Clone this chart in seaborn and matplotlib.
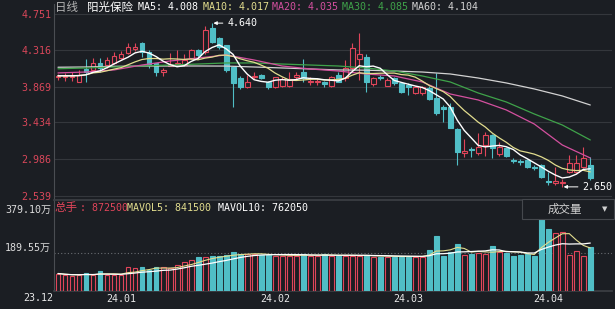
import numpy as np
import pandas as pd
import matplotlib
matplotlib.use("Agg")
import matplotlib.pyplot as plt
import seaborn as sns
from matplotlib.patches import Rectangle

# ---------------- data ----------------
opens = [3.99, 3.99, 3.98, 3.93, 4.08, 4.07, 4.15, 4.13, 4.16, 4.22,
         4.28, 4.33, 4.40, 4.29, 4.15, 4.04, 4.12, 4.14, 4.13, 4.22,
         4.31, 4.29, 4.58, 4.46, 4.37, 4.11, 3.97, 3.86, 3.98, 4.01,
         3.93, 3.86, 3.87, 3.87, 3.99, 4.05, 3.92, 3.92, 3.92, 3.87,
         4.01, 3.97, 4.09, 4.20, 4.23, 3.90, 3.99, 3.88, 3.97, 3.91,
         3.89, 3.79, 3.79, 3.85, 3.73, 3.62, 3.62, 3.35, 3.06, 3.11,
         3.06, 3.16, 3.28, 3.05, 3.12, 2.98, 2.96, 2.98, 2.89, 2.92,
         2.72, 2.70, 2.70, 2.83, 2.83, 2.89, 2.92]
highs = [4.02, 4.03, 4.05, 4.07, 4.20, 4.22, 4.22, 4.23, 4.29, 4.30,
         4.40, 4.40, 4.41, 4.31, 4.16, 4.10, 4.28, 4.31, 4.27, 4.32,
         4.33, 4.60, 4.64, 4.47, 4.38, 4.12, 4.00, 4.01, 4.04, 4.02,
         3.94, 3.99, 3.98, 4.04, 4.04, 4.20, 3.98, 3.97, 3.94, 4.00,
         4.04, 4.19, 4.40, 4.52, 4.26, 3.99, 4.01, 3.97, 3.99, 3.92,
         3.91, 3.87, 3.88, 3.87, 4.03, 3.65, 3.67, 3.36, 3.23, 3.14,
         3.30, 3.32, 3.29, 3.20, 3.13, 3.00, 2.99, 2.99, 2.92, 2.93,
         2.83, 2.89, 2.75, 3.04, 3.04, 3.13, 3.01]
lows = [3.95, 3.94, 3.94, 3.92, 3.93, 4.05, 4.05, 4.10, 4.14, 4.20,
        4.26, 4.30, 4.23, 4.10, 4.00, 4.00, 4.12, 4.13, 4.12, 4.20,
        4.21, 4.27, 4.40, 4.32, 4.05, 3.62, 3.84, 3.85, 3.96, 3.96,
        3.84, 3.85, 3.86, 3.86, 3.95, 3.93, 3.89, 3.89, 3.86, 3.86,
        3.92, 3.94, 4.06, 3.95, 3.80, 3.88, 3.95, 3.87, 3.89, 3.79,
        3.77, 3.78, 3.77, 3.70, 3.52, 3.44, 3.36, 2.92, 3.01, 3.01,
        3.04, 3.02, 3.00, 3.02, 3.01, 2.94, 2.91, 2.88, 2.86, 2.76,
        2.67, 2.67, 2.65, 2.82, 2.82, 2.88, 2.73]
closes = [4.00, 4.00, 4.00, 4.01, 4.05, 4.15, 4.09, 4.19, 4.24, 4.26,
          4.35, 4.35, 4.29, 4.13, 4.05, 4.07, 4.14, 4.16, 4.19, 4.31,
          4.25, 4.56, 4.41, 4.35, 4.07, 3.91, 3.86, 3.92, 4.00, 3.97,
          3.86, 3.98, 3.96, 3.96, 4.01, 3.97, 3.94, 3.94, 3.90, 3.98,
          3.93, 4.10, 4.34, 4.26, 3.92, 3.97, 3.97, 3.95, 3.91, 3.80,
          3.86, 3.86, 3.86, 3.72, 3.55, 3.60, 3.37, 3.07, 3.09, 3.10,
          3.14, 3.28, 3.12, 3.13, 3.02, 2.97, 2.95, 2.89, 2.88, 2.77,
          2.71, 2.72, 2.71, 2.94, 2.94, 3.00, 2.76]
# volume, in 万 (10k shares)
volumes = [87.25, 80, 77, 80, 88, 80, 100, 80, 80, 80,
           118, 113, 118, 105, 118, 118, 113, 130, 143, 155,
           168, 168, 175, 175, 180, 193, 185, 185, 185, 180,
           180, 177, 177, 177, 177, 185, 177, 177, 183, 177,
           177, 177, 177, 177, 177, 172, 172, 172, 172, 172,
           172, 172, 172, 205, 275, 177, 197, 233, 180, 185,
           192, 185, 225, 197, 192, 177, 180, 185, 177, 360,
           310, 288, 293, 180, 200, 177, 222]
# long moving averages every 4th session
ma_long_idx = list(range(0, 77, 4))
ma20 = [4.035, 4.046, 4.071, 4.131, 4.180, 4.216, 4.253, 4.192, 4.119, 4.083,
        4.058, 4.022, 3.998, 3.925, 3.779, 3.706, 3.585, 3.414, 3.159, 3.001]
ma30 = [4.085, 4.095, 4.107, 4.119, 4.131, 4.143, 4.156, 4.156, 4.143, 4.131,
        4.119, 4.095, 4.058, 3.998, 3.925, 3.791, 3.682, 3.536, 3.402, 3.220]
ma60 = [4.104, 4.107, 4.115, 4.118, 4.119, 4.119, 4.118, 4.107, 4.095, 4.083,
        4.071, 4.068, 4.058, 4.046, 4.022, 3.973, 3.913, 3.840, 3.755, 3.645]

price_ticks = [4.751, 4.316, 3.869, 3.434, 2.986, 2.539]
vol_ticks = [189.55, 379.10]
vol_tick_labels = ["189.55万", "379.10万"]
month_pos = [9, 31, 50, 70]
month_labels = ["24.01", "24.02", "24.03", "24.04"]
first_label = "23.12"
stock_name = "阳光保险"
period_name = "日线"
header_ma = [("MA5", "4.008"), ("MA10", "4.017"), ("MA20", "4.035"),
             ("MA30", "4.085"), ("MA60", "4.104")]
vol_header = ("总手", "872500", "841500", "762050")
max_label = 4.640
min_label = 2.650

# ---------------- style ----------------
BG = "#1b1e23"
RED = "#e0455a"
CYAN = "#50bec6"
C_MA5 = "#ffffff"
C_MA10 = "#e2dd8e"
C_MA20 = "#d4509f"
C_MA30 = "#3fa34a"
C_MA60 = "#d2d2d2"
GRID = "#34373c"
MONO = ["DejaVu Sans Mono", "Noto Sans CJK SC"]
CJK = ["Noto Sans CJK SC", "DejaVu Sans"]

sns.set_theme(style="dark", rc={"axes.facecolor": BG, "figure.facecolor": BG,
                                "savefig.facecolor": BG})
plt.rcParams["font.family"] = MONO

W, H = 615, 309
fig = plt.figure(figsize=(W / 100, H / 100), dpi=100)
ax = fig.add_axes([54 / W, 110 / H, 558 / W, 195 / H])
axv = fig.add_axes([54 / W, 18 / H, 558 / W, 91 / H])

o = np.array(opens); c = np.array(closes)
hi = np.array(highs); lo = np.array(lows)
vol = np.array(volumes)
n = len(o)
x = np.arange(n)
up = c >= o
edge = np.where(up, RED, CYAN)
face = np.where(up, BG, CYAN)
body_lo = np.minimum(o, c)
body_hi = np.maximum(o, c)
body_h = np.maximum(body_hi - body_lo, 0.006)

# ---------------- price panel ----------------
for a in (ax, axv):
    a.set_facecolor(BG)
    a.set_xlim(-0.57, 79.1)
    for s in a.spines.values():
        s.set_visible(False)
    a.spines["left"].set_visible(True)
    a.spines["left"].set_color("#4a4d52")
    a.spines["left"].set_linewidth(0.8)

ax.set_ylim(2.5025, 4.8725)
ax.set_yticks(price_ticks)
ax.set_yticklabels([f"{t:.3f}" for t in price_ticks], color="#d9475a", fontsize=7.2)
ax.tick_params(axis="y", length=0, pad=2)
ax.set_xticks([])
for t in price_ticks:
    ax.axhline(t, color=GRID, lw=0.8, zorder=0)

ax.vlines(x, lo, body_lo, color=edge, lw=0.8, zorder=2)
ax.vlines(x, body_hi, hi, color=edge, lw=0.8, zorder=2)
ax.bar(x, body_h, bottom=body_lo, width=0.7, color=face, edgecolor=edge,
       linewidth=0.8, zorder=3)

ma5 = pd.Series(c).rolling(5, min_periods=1).mean()
ma10 = pd.Series(c).rolling(10, min_periods=1).mean()
sns.lineplot(x=ma_long_idx, y=ma60, ax=ax, color=C_MA60, lw=0.9, legend=False, zorder=4)
sns.lineplot(x=ma_long_idx, y=ma30, ax=ax, color=C_MA30, lw=0.9, legend=False, zorder=4)
sns.lineplot(x=ma_long_idx, y=ma20, ax=ax, color=C_MA20, lw=0.9, legend=False, zorder=4)
sns.lineplot(x=x, y=ma10, ax=ax, color=C_MA10, lw=0.9, legend=False, zorder=5)
sns.lineplot(x=x, y=ma5, ax=ax, color=C_MA5, lw=1.0, legend=False, zorder=6)
ax.set_xlabel(""); ax.set_ylabel("")
ax.set_xlim(-0.57, 79.1)

imax = int(np.argmax(hi)); imin = int(np.argmin(lo))
ax.annotate(f"{max_label:.3f}", xy=(imax, hi[imax]), xytext=(imax + 2.2, hi[imax]),
            color="white", fontsize=7.2, va="center", ha="left",
            arrowprops=dict(arrowstyle="-|>", color="white", lw=0.7,
                            mutation_scale=5, shrinkA=1, shrinkB=1))
ax.annotate(f"{min_label:.3f}", xy=(imin, lo[imin]), xytext=(imin + 2.9, lo[imin]),
            color="white", fontsize=7.2, va="center", ha="left",
            arrowprops=dict(arrowstyle="-|>", color="white", lw=0.7,
                            mutation_scale=5, shrinkA=1, shrinkB=1))

# ---------------- volume panel ----------------
axv.set_ylim(0, 454)
axv.spines["top"].set_visible(True)
axv.spines["top"].set_color("#3c3f44")
axv.spines["bottom"].set_visible(True)
axv.spines["bottom"].set_color("#3c3f44")
axv.bar(x, vol, width=0.7, color=face, edgecolor=edge, linewidth=0.8, zorder=3)
mavol5 = pd.Series(vol).rolling(5, min_periods=1).mean()
mavol10 = pd.Series(vol).rolling(10, min_periods=1).mean()
sns.lineplot(x=x, y=mavol5, ax=axv, color=C_MA10, lw=0.8, legend=False, zorder=4)
sns.lineplot(x=x, y=mavol10, ax=axv, color="white", lw=0.9, legend=False, zorder=5)
axv.set_xlabel(""); axv.set_ylabel("")
axv.set_xlim(-0.57, 79.1)
axv.axhline(vol_ticks[0], color="#6a6d72", lw=0.8, ls=(0, (1, 2)), zorder=1)
axv.set_yticks(vol_ticks)
axv.set_yticklabels(vol_tick_labels, color="#dcdcdc", fontsize=7.2, family=MONO)
for lab in axv.get_yticklabels():
    lab.set_va("bottom")
axv.tick_params(axis="y", length=0, pad=2)
axv.set_xticks(month_pos)
axv.set_xticklabels(month_labels, color="#e8e8e8", fontsize=7.2)
axv.tick_params(axis="x", length=0, pad=2.5)
fig.text(38 / W, 1 - 298 / H, first_label, color="#e8e8e8", fontsize=7.2,
         ha="center", va="center")

# ---------------- headers ----------------
yh = 1 - 7 / H
fig.text(55 / W, yh, period_name, color="#b4b4b4", fontsize=8.3, family=CJK, va="center")
fig.text(87 / W, yh, stock_name, color="#ffffff", fontsize=8.3, family=CJK, va="center")
ma_cols = [C_MA5, C_MA10, C_MA20, C_MA30, C_MA60]
ma_x = [138, 203, 272, 342, 412]
for (nm, val), col, xx in zip(header_ma, ma_cols, ma_x):
    fig.text(xx / W, yh, f"{nm}: {val}", color=col, fontsize=7.2, va="center")

yv = 1 - 208 / H
fig.text(55 / W, yv, vol_header[0], color=RED, fontsize=8.3, family=CJK, va="center")
fig.text(80 / W, yv, f": {vol_header[1]}", color=RED, fontsize=7.2, va="center")
fig.text(127 / W, yv, f"MAVOL5: {vol_header[2]}", color=C_MA10, fontsize=7.2, va="center")
fig.text(218 / W, yv, f"MAVOL10: {vol_header[3]}", color="white", fontsize=7.2, va="center")

fig.add_artist(Rectangle((522 / W, 1 - 219 / H), 92 / W, 20 / H, transform=fig.transFigure,
                         facecolor=BG, edgecolor="#45484d", lw=0.8, zorder=10))
fig.text(565 / W, 1 - 209 / H, "成交量", color="#d0d0d0", fontsize=8.3, family=CJK,
         ha="center", va="center", zorder=11)
fig.text(605 / W, 1 - 209 / H, "▼", color="#d0d0d0", fontsize=5, family=["DejaVu Sans"],
         ha="center", va="center", zorder=11)

fig.savefig("out.png", dpi=100, facecolor=BG)
